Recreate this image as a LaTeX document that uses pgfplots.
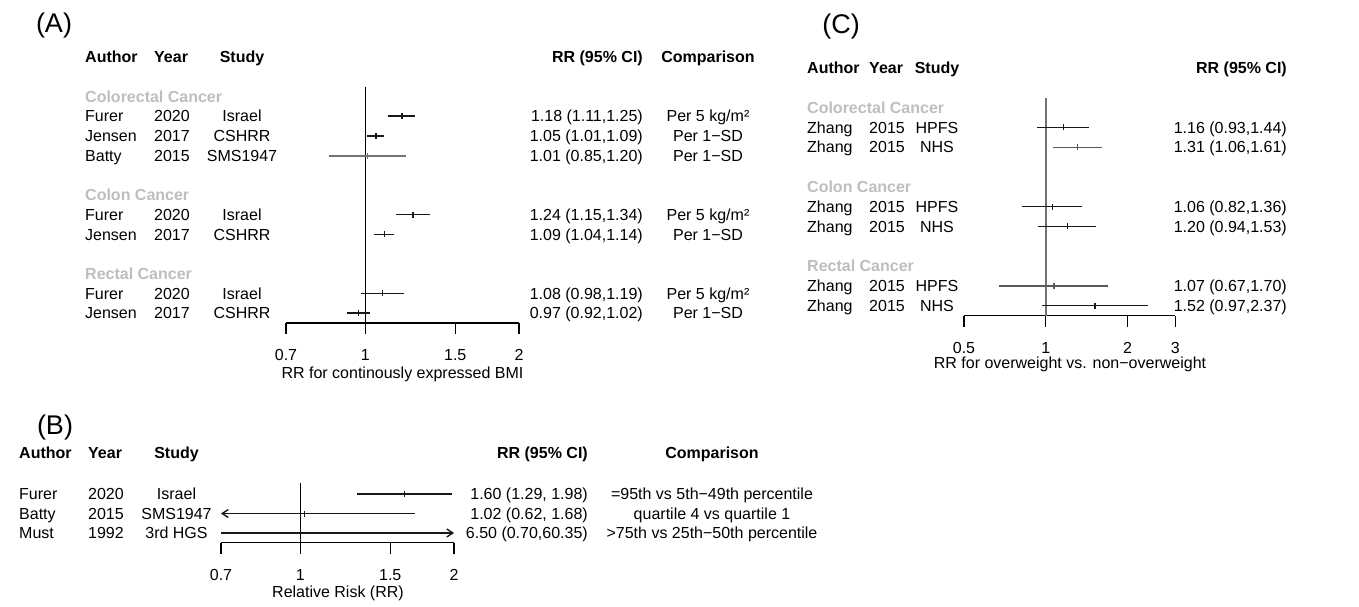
\documentclass[border=0pt]{standalone}
\usepackage{fontspec}
\setmainfont{Liberation Sans}
\usepackage{pgfplots}
\pgfplotsset{compat=1.18}
\usetikzlibrary{arrows.meta}
\definecolor{grp}{RGB}{190,190,190}
\newcommand{\fs}{\fontsize{16}{19}\selectfont}
\newcommand{\TL}[3]{\node[anchor=base west,inner sep=0pt,font=\fs] at (#1,{600.3-#2}) {#3};}
\newcommand{\TR}[3]{\node[anchor=base east,inner sep=0pt,font=\fs] at (#1,{600.3-#2}) {#3};}
\newcommand{\TC}[3]{\node[anchor=base,inner sep=0pt,font=\fs] at (#1,{600.3-#2}) {#3};}
\pgfplotsset{
  ci/.style={black!90, line width=1.4pt, mark=|, mark size=3pt, mark indices={2},
    mark options={line width=1.5pt, solid}},
}
\begin{document}
\begin{tikzpicture}[x=1pt,y=1pt]
\path[use as bounding box] (0,0) rectangle (1359,606);

% ---------------- Panel A ----------------
\begin{axis}[xmode=log, scale only axis, y dir=reverse,
  axis x line*=bottom, axis y line=none,
  x axis line style={line width=1.4pt,-},
  xtick align=outside, major tick length=11pt,
  xtick style={black,line width=1.4pt},
  ytick=\empty, clip=false, anchor=south west,
  xticklabel style={font=\fs, anchor=base, yshift=-26.5pt},
  at={(286pt,283.05pt)}, width=233.1pt, height=236.4pt,
  xmin=0.7, xmax=2, ymin=1.5, ymax=13.5,
  xtick={0.7,1,1.5,2}, xticklabels={0.7,1,1.5,2}]
\addplot[black, line width=1.4pt] coordinates {(1,1.5) (1,13.5)};
% Colorectal
\addplot[ci] coordinates {(1.11,3) (1.18,3) (1.25,3)};
\addplot[ci] coordinates {(1.01,4) (1.05,4) (1.09,4)};
\addplot[ci, black!55, line width=2pt] coordinates {(0.85,5) (1.01,5) (1.20,5)};
% Colon
\addplot[ci] coordinates {(1.15,8) (1.24,8) (1.34,8)};
\addplot[ci] coordinates {(1.04,9) (1.09,9) (1.14,9)};
% Rectal
\addplot[ci] coordinates {(0.98,12) (1.08,12) (1.19,12)};
\addplot[ci] coordinates {(0.92,13) (0.97,13) (1.02,13)};
\end{axis}

% ---------------- Panel C ----------------
\begin{axis}[xmode=log, scale only axis, y dir=reverse,
  axis x line*=bottom, axis y line=none,
  x axis line style={line width=1.4pt,-},
  xtick align=outside, major tick length=11pt,
  xtick style={black,line width=1.4pt},
  ytick=\empty, clip=false, anchor=south west,
  xticklabel style={font=\fs, anchor=base, yshift=-26.5pt},
  at={(964pt,290.5pt)}, width=211.4pt, height=217.8pt,
  xmin=0.5, xmax=3, ymin=1.5, ymax=12.5,
  xtick={0.5,1,2,3}, xticklabels={0.5,1,2,3}]
\addplot[black!55, line width=2.2pt] coordinates {(1,1.5) (1,12.5)};
\addplot[ci] coordinates {(0.93,3) (1.16,3) (1.44,3)};
\addplot[ci, black!65] coordinates {(1.06,4) (1.31,4) (1.61,4)};
\addplot[ci] coordinates {(0.82,7) (1.06,7) (1.36,7)};
\addplot[ci] coordinates {(0.94,8) (1.20,8) (1.53,8)};
\addplot[ci, black!65] coordinates {(0.67,11) (1.07,11) (1.70,11)};
\addplot[ci] coordinates {(0.97,12) (1.52,12) (2.37,12)};
\end{axis}

% ---------------- Panel B ----------------
\begin{axis}[xmode=log, scale only axis, y dir=reverse,
  axis x line*=bottom, axis y line=none,
  x axis line style={line width=1.4pt,-},
  xtick align=outside, major tick length=11pt,
  xtick style={black,line width=1.4pt},
  ytick=\empty, clip=false, anchor=south west,
  xticklabel style={font=\fs, anchor=base, yshift=-26.5pt},
  at={(221pt,63.25pt)}, width=233.1pt, height=59.475pt,
  xmin=0.7, xmax=2, ymin=0.45, ymax=3.5,
  xtick={0.7,1,1.5,2}, xticklabels={0.7,1,1.5,2}]
\addplot[black, line width=1.4pt] coordinates {(1,0.45) (1,3.5)};
\addplot[ci] coordinates {(1.29,1) (1.60,1) (1.98,1)};
% Batty 1.02 (0.62, 1.68): lower limit below 0.7, drawn as arrow at 0.7
\addplot[ci, {Straight Barb[length=6pt,width=8pt]}-] coordinates {(0.7,2) (1.02,2) (1.68,2)};
% Must 6.50 (0.70, 60.35): estimate and upper limit beyond 2, drawn as arrow at 2
\addplot[black!90, line width=1.4pt, -{Straight Barb[length=6pt,width=8pt]}] coordinates {(0.70,3) (2,3)};
\end{axis}

% ---------------- Text: Panel A ----------------
\node[anchor=base,inner sep=0pt,font=\fontsize{27}{30}\selectfont] at (54,{606-33}) {(A)};
\TL{85}{57}{\bfseries Author}
\TL{154}{57}{\bfseries Year}
\TC{242}{57}{\bfseries Study}
\TR{643}{57}{\bfseries RR (95\% CI)}
\TC{708}{57}{\bfseries Comparison}
\TL{85}{96.4}{\color{grp}\bfseries Colorectal Cancer}
\TL{85}{116.1}{Furer}\TL{154}{116.1}{2020}\TC{242}{116.1}{Israel}\TR{643}{116.1}{1.18 (1.11,1.25)}\TC{708}{116.1}{Per 5 kg/m²}
\TL{85}{135.8}{Jensen}\TL{154}{135.8}{2017}\TC{242}{135.8}{CSHRR}\TR{643}{135.8}{1.05 (1.01,1.09)}\TC{708}{135.8}{Per 1−SD}
\TL{85}{155.5}{Batty}\TL{154}{155.5}{2015}\TC{242}{155.5}{SMS1947}\TR{643}{155.5}{1.01 (0.85,1.20)}\TC{708}{155.5}{Per 1−SD}
\TL{85}{194.9}{\color{grp}\bfseries Colon Cancer}
\TL{85}{214.6}{Furer}\TL{154}{214.6}{2020}\TC{242}{214.6}{Israel}\TR{643}{214.6}{1.24 (1.15,1.34)}\TC{708}{214.6}{Per 5 kg/m²}
\TL{85}{234.3}{Jensen}\TL{154}{234.3}{2017}\TC{242}{234.3}{CSHRR}\TR{643}{234.3}{1.09 (1.04,1.14)}\TC{708}{234.3}{Per 1−SD}
\TL{85}{273.7}{\color{grp}\bfseries Rectal Cancer}
\TL{85}{293.4}{Furer}\TL{154}{293.4}{2020}\TC{242}{293.4}{Israel}\TR{643}{293.4}{1.08 (0.98,1.19)}\TC{708}{293.4}{Per 5 kg/m²}
\TL{85}{313.1}{Jensen}\TL{154}{313.1}{2017}\TC{242}{313.1}{CSHRR}\TR{643}{313.1}{0.97 (0.92,1.02)}\TC{708}{313.1}{Per 1−SD}
\TC{402.5}{373}{RR for continously expressed BMI}

% ---------------- Text: Panel C ----------------
\node[anchor=base,inner sep=0pt,font=\fontsize{27}{30}\selectfont] at (841,{606-34}) {(C)};
\TL{807}{68}{\bfseries Author}
\TL{869}{68}{\bfseries Year}
\TC{937}{68}{\bfseries Study}
\TR{1287}{68}{\bfseries RR (95\% CI)}
\TL{807}{107.6}{\color{grp}\bfseries Colorectal Cancer}
\TL{807}{127.4}{Zhang}\TL{869}{127.4}{2015}\TC{937}{127.4}{HPFS}\TR{1287}{127.4}{1.16 (0.93,1.44)}
\TL{807}{147.2}{Zhang}\TL{869}{147.2}{2015}\TC{937}{147.2}{NHS}\TR{1287}{147.2}{1.31 (1.06,1.61)}
\TL{807}{186.8}{\color{grp}\bfseries Colon Cancer}
\TL{807}{206.6}{Zhang}\TL{869}{206.6}{2015}\TC{937}{206.6}{HPFS}\TR{1287}{206.6}{1.06 (0.82,1.36)}
\TL{807}{226.4}{Zhang}\TL{869}{226.4}{2015}\TC{937}{226.4}{NHS}\TR{1287}{226.4}{1.20 (0.94,1.53)}
\TL{807}{266}{\color{grp}\bfseries Rectal Cancer}
\TL{807}{285.8}{Zhang}\TL{869}{285.8}{2015}\TC{937}{285.8}{HPFS}\TR{1287}{285.8}{1.07 (0.67,1.70)}
\TL{807}{305.6}{Zhang}\TL{869}{305.6}{2015}\TC{937}{305.6}{NHS}\TR{1287}{305.6}{1.52 (0.97,2.37)}
\TC{1070}{363}{RR for overweight vs. non−overweight}

% ---------------- Text: Panel B ----------------
\node[anchor=base,inner sep=0pt,font=\fontsize{27}{30}\selectfont] at (55,{606-434}) {(B)};
\TL{19}{453}{\bfseries Author}
\TL{88}{453}{\bfseries Year}
\TC{176.5}{453}{\bfseries Study}
\TR{588}{453}{\bfseries RR (95\% CI)}
\TC{712}{453}{\bfseries Comparison}
\TL{19}{494}{Furer}\TL{88}{494}{2020}\TC{176.5}{494}{Israel}\TR{588}{494}{1.60 (1.29, 1.98)}\TC{712}{494}{=95th vs 5th−49th percentile}
\TL{19}{513.5}{Batty}\TL{88}{513.5}{2015}\TC{176.5}{513.5}{SMS1947}\TR{588}{513.5}{1.02 (0.62, 1.68)}\TC{712}{513.5}{quartile 4 vs quartile 1}
\TL{19}{533}{Must}\TL{88}{533}{1992}\TC{176.5}{533}{3rd HGS}\TR{588}{533}{6.50 (0.70,60.35)}\TC{712}{533}{>75th vs 25th−50th percentile}
\TC{338}{592}{Relative Risk (RR)}
\end{tikzpicture}
\end{document}
